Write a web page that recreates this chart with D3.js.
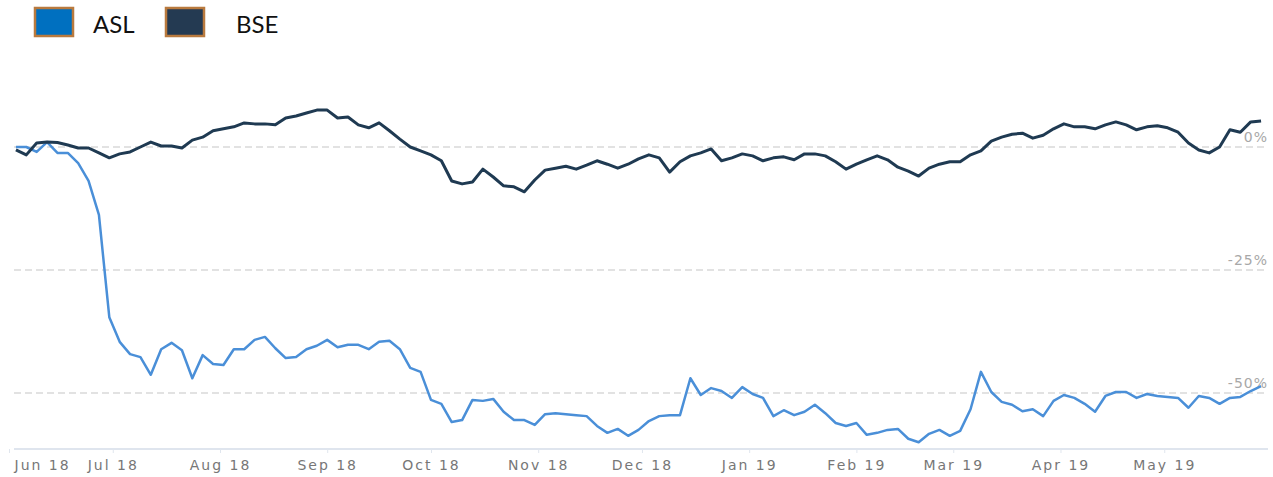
<!DOCTYPE html>
<html>
<head>
<meta charset="utf-8">
<script src="https://cdn.jsdelivr.net/npm/d3@7/dist/d3.min.js"></script>
<style>
body { margin: 0; background: #fff; }
</style>
</head>
<body>
<div id="chart"></div>
<script>
// dates (every 3 days), values are % change
const dates = [
"2018-06-03","2018-06-06","2018-06-09","2018-06-12","2018-06-15","2018-06-18","2018-06-21","2018-06-24","2018-06-27","2018-06-30",
"2018-07-03","2018-07-06","2018-07-09","2018-07-12","2018-07-15","2018-07-18","2018-07-21","2018-07-24","2018-07-27","2018-07-30",
"2018-08-02","2018-08-05","2018-08-08","2018-08-11","2018-08-14","2018-08-17","2018-08-20","2018-08-23","2018-08-26","2018-08-29",
"2018-09-01","2018-09-04","2018-09-07","2018-09-10","2018-09-13","2018-09-16","2018-09-19","2018-09-22","2018-09-25","2018-09-28",
"2018-10-01","2018-10-04","2018-10-07","2018-10-10","2018-10-13","2018-10-16","2018-10-19","2018-10-22","2018-10-25","2018-10-28",
"2018-10-31","2018-11-03","2018-11-06","2018-11-09","2018-11-12","2018-11-15","2018-11-18","2018-11-21","2018-11-24","2018-11-27",
"2018-11-30","2018-12-03","2018-12-06","2018-12-09","2018-12-12","2018-12-15","2018-12-18","2018-12-21","2018-12-24","2018-12-27",
"2018-12-30","2019-01-02","2019-01-05","2019-01-08","2019-01-11","2019-01-14","2019-01-17","2019-01-20","2019-01-23","2019-01-26",
"2019-01-29","2019-02-01","2019-02-04","2019-02-07","2019-02-10","2019-02-13","2019-02-16","2019-02-19","2019-02-22","2019-02-25",
"2019-02-28","2019-03-03","2019-03-06","2019-03-09","2019-03-12","2019-03-15","2019-03-18","2019-03-21","2019-03-24","2019-03-27",
"2019-03-30","2019-04-02","2019-04-05","2019-04-08","2019-04-11","2019-04-14","2019-04-17","2019-04-20","2019-04-23","2019-04-26",
"2019-04-29","2019-05-02","2019-05-05","2019-05-08","2019-05-11","2019-05-14","2019-05-17","2019-05-20","2019-05-23","2019-05-26",
"2019-05-29"];

const aslValues = [
0.0,0.0,-1.0,1.0,-1.2,-1.2,-3.3,-6.9,-13.8,-34.6,
-39.6,-42.1,-42.7,-46.3,-41.1,-39.8,-41.3,-47.0,-42.3,-44.1,
-44.3,-41.1,-41.1,-39.2,-38.6,-40.9,-42.9,-42.7,-41.1,-40.4,
-39.2,-40.7,-40.2,-40.2,-41.1,-39.6,-39.4,-41.1,-44.9,-45.7,
-51.4,-52.2,-55.9,-55.5,-51.4,-51.6,-51.2,-53.8,-55.5,-55.5,
-56.5,-54.3,-54.1,-54.3,-54.5,-54.7,-56.7,-58.1,-57.3,-58.7,
-57.5,-55.7,-54.7,-54.5,-54.5,-47.0,-50.4,-49.0,-49.6,-51.0,
-48.8,-50.2,-51.0,-54.7,-53.5,-54.5,-53.8,-52.4,-54.1,-56.1,
-56.7,-56.1,-58.5,-58.1,-57.5,-57.3,-59.3,-60.0,-58.3,-57.5,
-58.7,-57.7,-53.3,-45.7,-49.8,-51.8,-52.4,-53.7,-53.3,-54.7,
-51.6,-50.4,-51.0,-52.2,-53.8,-50.6,-49.8,-49.8,-51.0,-50.2,
-50.6,-50.8,-51.0,-53.0,-50.6,-51.0,-52.2,-51.0,-50.8,-49.6,
-48.6];

const bseValues = [
-0.6,-1.6,0.8,1.0,0.9,0.4,-0.2,-0.2,-1.2,-2.2,
-1.4,-1.0,0.0,1.0,0.2,0.2,-0.2,1.4,2.0,3.3,
3.7,4.1,4.9,4.7,4.7,4.5,5.9,6.3,6.9,7.5,
7.5,5.9,6.1,4.5,3.9,4.9,3.3,1.6,0.0,-0.8,
-1.6,-2.8,-6.9,-7.5,-7.1,-4.5,-6.1,-7.9,-8.1,-9.1,
-6.7,-4.7,-4.3,-3.9,-4.5,-3.7,-2.8,-3.5,-4.3,-3.5,
-2.4,-1.6,-2.2,-5.1,-3.0,-1.8,-1.2,-0.4,-2.8,-2.2,
-1.4,-1.8,-2.8,-2.2,-2.0,-2.6,-1.4,-1.4,-1.8,-3.0,
-4.5,-3.5,-2.6,-1.8,-2.6,-4.1,-4.9,-5.9,-4.3,-3.5,
-3.0,-3.0,-1.6,-0.8,1.2,2.0,2.6,2.8,1.8,2.4,
3.7,4.7,4.1,4.1,3.7,4.5,5.1,4.5,3.5,4.1,
4.3,3.9,3.0,0.8,-0.6,-1.2,0.0,3.5,3.0,5.1,
5.3];

const seriesNames = ["ASL", "BSE"];
const lineColors = ["#4a8fd8", "#1f3a52"];
const legendColors = ["#0070c0", "#243a52"];
const yTicks = [0, -25, -50];

const width = 1273, height = 477;
const parse = d3.timeParse("%Y-%m-%d");

const svg = d3.select("#chart").append("svg")
    .attr("width", width)
    .attr("height", height);

svg.append("clipPath").attr("id", "clip")
  .append("rect")
    .attr("x", 14).attr("y", 0)
    .attr("width", 1254).attr("height", height);

const x = d3.scaleTime()
    .domain([new Date(2018, 5, 1), new Date(2019, 4, 31)])
    .range([9, 1268]);

const y = d3.scaleLinear()
    .domain([-50, 0])
    .range([393, 147]);

const g = svg.append("g").attr("clip-path", "url(#clip)");

// grid lines + right labels
yTicks.forEach(t => {
    g.append("line")
        .attr("x1", 14).attr("x2", 1268)
        .attr("y1", y(t)).attr("y2", y(t))
        .attr("stroke", "#d9d9d9")
        .attr("stroke-width", 1.5)
        .attr("stroke-dasharray", "7,4");
    g.append("text")
        .attr("x", 1268)
        .attr("y", y(t) - 5)
        .attr("text-anchor", "end")
        .style("font-family", "DejaVu Sans")
        .style("font-size", "14px")
        .style("letter-spacing", "1px")
        .style("fill", "#a8a8a8")
        .text(t + "%");
});

// x axis
const xAxis = d3.axisBottom(x)
    .ticks(d3.timeMonth.every(1))
    .tickFormat(d3.timeFormat("%b %y"))
    .tickSizeInner(4)
    .tickSizeOuter(0)
    .tickPadding(7);

const ax = svg.append("g")
    .attr("transform", "translate(0,449)")
    .call(xAxis);
ax.select(".domain").attr("stroke", "#d5dde8").attr("stroke-width", 1.5)
    .attr("d", "M14,0H1268");
ax.selectAll(".tick line").attr("stroke", "#e0e6ee");
ax.selectAll(".tick text")
    .style("font-family", "DejaVu Sans")
    .style("font-size", "14px")
    .style("letter-spacing", "2px")
    .style("fill", "#777");
// first label pushed inside the plot, as in the original
ax.selectAll(".tick").filter((d, i) => i == 0)
    .select("text")
    .attr("text-anchor", "start")
    .attr("x", 5);

let line = d3.line()
    .x(d => x(d.date))
    .y(d => y(d.v));

[aslValues, bseValues].forEach((vals, i) => {
    let pts = dates.map((d, k) => ({date: parse(d), v: vals[k]}));
    g.append("path")
        .datum(pts)
        .attr("d", line)
        .attr("fill", "none")
        .attr("stroke", lineColors[i])
        .attr("stroke-width", i == 1 ? 3 : 2.5)
        .attr("stroke-linejoin", "round");
});

// legend
const legendX = [35, 166];
seriesNames.forEach((name, i) => {
    svg.append("rect")
        .attr("x", legendX[i]).attr("y", 8)
        .attr("width", 38).attr("height", 28)
        .attr("fill", legendColors[i])
        .attr("stroke", "#b97a3e")
        .attr("stroke-width", 2.5);
    svg.append("text")
        .attr("x", legendX[i] + 58 + (i == 1 ? 12 : 0))
        .attr("y", 33)
        .style("font-family", "Lato")
        .style("font-size", "24px")
        .style("fill", "#111")
        .text(name);
});
</script>
</body>
</html>
